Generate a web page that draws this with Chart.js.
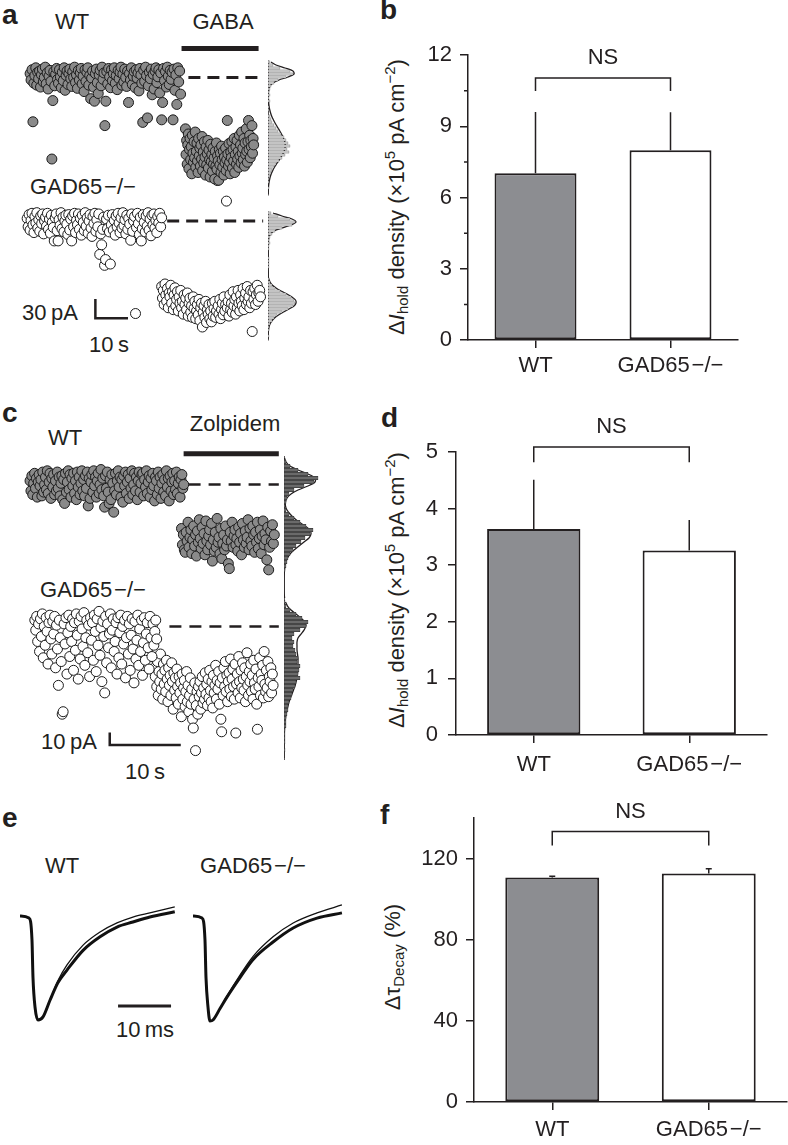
<!DOCTYPE html>
<html>
<head>
<meta charset="utf-8">
<script src="https://cdn.jsdelivr.net/npm/chart.js@4.4.1/dist/chart.umd.min.js"></script>
<style>
  body { margin: 0; background: #fff; }
  #fig { position: relative; width: 788px; height: 1145px; overflow: hidden;
         font-family: "Liberation Sans", Arial, sans-serif; color: #231f20; }
  #fig canvas { position: absolute; }
  .lbl { position: absolute; transform: translate(-50%, -50%); white-space: nowrap; font-size: 22px; line-height: 1; }
  .pl { position: absolute; font-weight: bold; font-size: 28px; line-height: 28px; }
  .yt { position: absolute; transform: translate(-50%, -50%) rotate(-90deg); white-space: nowrap; font-size: 22px; line-height: 1; }
  .yt sub, .yt sup { font-size: 15px; line-height: 0; }
  .yt sub { vertical-align: -4px; }
  .yt sup { vertical-align: 9px; }
</style>
</head>
<body>
<div id="fig">
  <div class="pl" style="left:2px;top:1px">a</div>
  <div class="pl" style="left:380px;top:-4px">b</div>
  <div class="pl" style="left:2px;top:399px">c</div>
  <div class="pl" style="left:381px;top:404px">d</div>
  <div class="pl" style="left:2px;top:804px">e</div>
  <div class="pl" style="left:380px;top:801px">f</div>

  <div class="lbl" style="left:72px;top:22px">WT</div>
  <div class="lbl" style="left:223px;top:22px">GABA</div>
  <div class="lbl" style="left:83px;top:187px">GAD65&#8202;&#8722;/&#8722;</div>
  <div class="lbl" style="left:50px;top:313px">30&#8201;pA</div>
  <div class="lbl" style="left:109px;top:345px">10&#8201;s</div>

  <div class="lbl" style="left:65px;top:438px">WT</div>
  <div class="lbl" style="left:235px;top:424px">Zolpidem</div>
  <div class="lbl" style="left:93px;top:590px">GAD65&#8202;&#8722;/&#8722;</div>
  <div class="lbl" style="left:69px;top:742px">10&#8201;pA</div>
  <div class="lbl" style="left:145px;top:772px">10&#8201;s</div>

  <div class="lbl" style="left:62px;top:866px">WT</div>
  <div class="lbl" style="left:253px;top:866px">GAD65&#8202;&#8722;/&#8722;</div>
  <div class="lbl" style="left:145px;top:1030px">10&#8201;ms</div>

  <div class="yt" style="left:397px;top:197px">&#916;<i>I</i><sub>hold</sub> density (&#215;10<sup>5</sup> pA cm<sup>&#8722;2</sup>)</div>
  <div class="yt" style="left:397px;top:590px">&#916;<i>I</i><sub>hold</sub> density (&#215;10<sup>5</sup> pA cm<sup>&#8722;2</sup>)</div>
  <div class="yt" style="left:393px;top:957px">&#916;&#964;<sub>Decay</sub> (%)</div>
</div>
<script>
const FONT = "'Liberation Sans', Arial, Helvetica, sans-serif";
const INK = '#231f20';
const WT_GRAY = '#8c8d91';
Chart.defaults.font.family = FONT;
Chart.defaults.color = INK;

// ---------- a: holding current during GABA (pA, relative to each cell's baseline) ----------
const aWtBase = [
  6,-4,12,-69,-9,3,15,-12,8,-2,  10,-15,4,13,-7,0,16,-10,7,-18,
  2,11,-6,-127,-36,9,-13,5,14,-3,  -9,12,1,-16,8,-5,15,-20,3,10,
  -11,6,13,-2,-14,9,0,16,-8,4,  -17,11,-4,7,14,-10,2,-22,12,-6,
  8,15,-12,3,-33,-1,10,-15,-37,6,  13,-8,-25,4,11,-13,16,-3,7,-75,
  -37,9,-10,14,1,-16,12,-5,6,15,  -9,3,-19,11,-2,8,16,-12,5,-7,
  13,0,-14,10,-39,6,-4,15,-11,2,  9,-16,12,-1,7,-21,14,4,-9,-70,
  11,-6,16,3,-63,-13,8,-2,13,-27,  5,-18,10,15,-8,1,12,-24,7,-66,
  -39,14,-5,9,-15,16,2,-11,11,-3,  8,-66,13,-20,4,-42,15,-7,10,-26
];
const aWtGaba = [
  -80,-120,-98,-135,-105,-88,-142,-112,-95,-128,  -108,-150,-90,-118,-132,-100,-125,-85,-140,-115,
  -102,-130,-148,-95,-122,-110,-138,-105,-127,-92,  -145,-116,-133,-100,-124,-152,-108,-136,-119,-98,
  -141,-113,-128,-155,-104,-131,-120,-146,-110,-135,  -125,-158,-115,-138,-102,-143,-122,-130,-160,-112,
  -136,-118,-148,-107,-128,-140,-115,-152,-124,-133,  -110,-145,-128,-67,-119,-138,-103,-132,-150,-116,
  -125,-100,-141,-112,-130,-95,-148,-120,-108,-135,  -98,-127,-115,-140,-90,-122,-105,-133,-85,-118,
  -110,-128,-95,-138,-102,-120,-80,-115,-132,-100,  -67,-112,-90,-125,-98,-108,-75,-118,-95,-105
];
const aGadBase = [
  4,-9,10,-14,1,12,-6,-18,7,-3,  13,-11,2,-16,8,-4,11,-20,0,6,
  -8,12,-13,3,-19,9,-2,-10,-31,5,  11,-15,-31,2,-7,13,-12,6,-17,0,
  9,-5,-21,10,-14,3,-31,8,-9,12,  -18,1,-6,11,-13,4,-22,9,-2,-15,
  13,-8,5,-19,0,10,-11,-24,7,-4,  12,-16,2,-9,11,-52,-20,-37,-13,6,
  -69,-60,3,-12,9,-17,-67,-6,10,-14,  1,-22,8,-9,12,-3,-18,5,-11,13,
  -7,2,-20,9,-13,4,-5,-30,11,-16,  0,7,-144,-10,12,-4,-21,6,-31,-12,
  10,-2,-17,8,-8,13,-14,3,-23,9,  -6,11,-11,1,-18,7,-3,12,-9,5
];
const aGadGaba = [
  -102,-120,-108,-130,-98,-115,-125,-105,-135,-112,  -118,-100,-128,-110,-138,-115,-104,-132,-122,-110,
  -140,-118,-128,-108,-135,-125,-145,-115,-130,-120,  -138,-112,-148,-128,-120,-142,-132,-150,-118,-136,
  -125,-152,-140,-130,-146,-122,-155,-135,-128,-165,  -142,-132,-150,-125,-158,-138,-145,-130,-152,-140,
  -157,-128,-148,-136,-125,-150,-140,63,-132,-145,  -122,-152,-138,-128,-146,-118,-140,-130,31,-135,
  -125,-148,-115,-138,-128,-142,-110,-132,-122,-145,  -118,-135,-108,-128,-140,-115,-125,-132,-105,-138,
  -120,-112,-130,-102,-125,-118,-135,-108,-128,-172,  -110,-122,-105,-130,-115,-100,-125,-112,-108,-118
];
// [start time, sample interval] in s
const aWtBaseT = [1.5, 0.29], aWtGabaT = [49.1, 0.1756];
const aGadBaseT = [0.6, 0.2964], aGadGabaT = [41.8, 0.2546];
const aGadShift = -223.5;                 // vertical offset of GAD65-/- trace (pA)
const aGaba = [47.9, 71.5];               // GABA application (s)
const aDashWt = [50, 72.9], aDashGad = [43.5, 72.9];
// all-points histograms, 4.5 pA bins from the top bin downwards
const aWtHist = [2,5,12,22,25,18,10,6,3,2, 1,2,1,2,0,1,1,0,2,3, 4,6,8,10,13,16,18,20,22,19, 21,17,14,11,8,6,4,3,2,1, 1,0,1,0,0];
const aWtFit  = [3,8,17,25,26,20,11,5,2,1, 0.5,0.3,0.3,0.5,0.8,1.2,1.8,2.6,3.6,5, 6.5,8.2,10,11.8,13.5,15,16.2,17,17.2,16.8, 15.8,14.3,12.5,10.5,8.5,6.6,5,3.6,2.5,1.7, 1.1,0.7,0.4,0.2,0.1];
const aGadHist = [3,10,22,27,24,14,7,4,2,1, 2,1,1,0,0,1,1,1,1,0, 0,0,1,2,4,7,12,18,23,26, 27,25,20,14,9,6,4,2,1,1, 0,1,0];
const aGadFit  = [5,14,24,28,23,14,6,2.5,1,0.5, 0.3,0.2,0.1,0.1,0.1,0.1,0.1,0.1,0.1,0.1, 0.2,0.2,0.8,2,4.2,8,13,19,24,27.5, 28,26,21,15.5,10.5,6.5,3.7,2,1,0.5, 0.2,0.1,0];
const aHistBin = 4.5, aWtHistTop = 16.5, aGadHistTop = 13.5;
const aScaleBar = { t: 21.5, pA: -375, dt: 10, dpA: 30 };

// ---------- c: holding current during zolpidem ----------
const cWtBase = [
  3,-5,7,-8,1,9,-3,5,-10,2,  8,-1,4,-9,10,-6,0,6,-4,11,
  -7,2,9,-11,5,-2,8,-8,3,-5,  10,-3,6,-9,1,7,-12,4,-15,9,
  -6,2,11,-4,8,-10,5,-1,9,-7,  3,-12,10,-2,6,-8,1,11,-5,4,
  -9,7,-3,10,-17,5,-11,2,8,-6,  11,-1,6,-10,3,9,-7,0,12,-4,
  5,-9,-18,7,-3,10,-6,-15,4,-12,  8,1,-22,-5,9,-8,3,11,-2,6,
  -10,4,-14,7,-1,10,-7,2,8,-11,  5,-3,11,-8,0,9,-5,6,-12,3,
  10,-6,1,8,9,-9,4,-2,11,-7,  2,7,-10,5,-4,9,-1,-13,6,3,
  -8,10,-3,6,-11,1,8,-6,4,-9,  11,-2,5,-13,7,-5,2,9,-8,3,
  -4,10,-7,1,6,-10,4,8,-3,0
];
const cWtZolp = [
  -35,-48,-40,-52,-54,-38,-45,-30,-50,-42,  -36,-55,-44,-33,-49,-40,-57,-37,-46,-28,
  -43,-51,-34,-47,-39,-56,-29,-45,-52,-41,  -36,-48,-31,-61,-44,-53,-38,-50,-27,-46,
  -42,-55,-35,-59,-47,-40,-52,-33,-49,-44,  -63,-67,-38,-45,-30,-50,-41,-36,-48,-43,
  -53,-34,-46,-39,-56,-31,-44,-50,-37,-47,  -42,-28,-52,-35,-45,-49,-33,-40,-54,-38,
  -46,-30,-51,-43,-36,-55,-41,-29,-48,-39,  -44,-60,-34,-68,-50,-37,-45,-32,-47,-40
];
const cGadBase = [
  5,-3,8,-12,2,-20,6,-8,10,-25,  0,-15,7,-4,-30,3,9,-10,-22,4,
  -6,8,-33,1,-18,-47,5,-9,-28,-70,  -68,2,-14,7,-38,-5,9,-24,0,-12,
  6,-35,3,-19,10,-7,-42,4,-26,8,  -2,-16,11,-31,-9,5,-21,1,-40,7,
  -11,3,-27,9,-4,-36,6,-15,12,-23,  -1,-44,4,-8,-53,8,-29,2,-17,-6,
  10,-33,-3,6,-20,-12,3,-38,7,-25,  -5,9,-30,0,-14,5,-41,-9,8,-22,
  2,-35,-7,6,-18,-45,4,-26,-11,9,  -31,-2,-20,5,-39,-13,7,-27,-6,3,
  -17,-34,8,-9,-24,2,-15,-4,5,-10
];
const cGadZolp = [
  -25,-40,-32,-48,-28,-55,-36,-44,-22,-50,  -38,-58,-30,-46,-35,-52,-27,-42,-60,-33,
  -47,-39,-55,-29,-44,-66,-37,-51,-41,-57,  -34,-48,-62,-40,-53,-45,-72,-38,-58,-49,
  -43,-64,-52,-36,-60,-47,-68,-55,-41,-62,  -50,-74,-81,-58,-45,-99,-63,-52,-70,-48,
  -56,-44,-66,-53,-40,-61,-49,-58,-37,-54,  -46,-63,-42,-57,-35,-51,-60,-44,-65,-39,
  -53,-47,-31,-58,-43,-50,-36,-62,-45,-74,  -84,-41,-55,-33,-48,-28,-52,-39,-60,-44,
  -37,-50,-26,-56,-42,-34,-48,-58,-30,-85,  -46,-38,-53,-24,-44,-57,-35,-49,-29,-42,
  -51,-33,-60,-40,-21,-47,-55,-36,-44,-30,  -52,-39,-58,-27,-45,-50,-34,-62,-82,-41,
  -48,-25,-55,-38,-43,-31,-57,-20,-46,-52,  -35,-49,-28,-56,-40,-44,-33,-53,-38,-47
];
const cWtBaseT = [0.68, 0.128], cWtZolpT = [22.0, 0.132];
const cGadBaseT = [1.35, 0.133], cGadZolpT = [18.2, 0.105];
const cGadShift = -113.1;
const cZolp = [22.3, 35.7];
const cDashWt = [23.0, 35.7], cDashGad = [20.3, 35.7];
const cWtHist = [0,2,6,14,24,34,30,20,10,5, 3,2,1,2,5,10,16,22,29,26, 21,17,12,9,6,4,3,2,1,0, 0,0,0,0,0,0];
const cWtFit  = [0.5,2,6,14,24,31,31,24,14,7, 3,1.5,1.5,3,6,10,15,21,26,27, 25,20,15,10,6,3.5,2,1,0.5,0.2, 0,0,0,0,0.2,0.6];
const cGadHist = [1,2,6,12,18,24,22,16,10,8, 10,9,11,12,14,13,16,15,14,16, 12,11,9,8,7,5,4,4,3,2, 2,2,1,1,1,1,0,1,0,0];
const cGadFit  = [1.5,3.5,7,12,17,21,22,20,17,14, 13,13,13,13.5,14,14,14,14,13.5,13, 12,11,9.5,8,6.5,5,4,3,2.2,1.6, 1.1,0.8,0.5,0.3,0.2,0.1,0,0,0,0];
const cHistBin = 3.077, cWtHistTop = 16.92, cGadHistTop = 19.23;
const cScaleBar = { t: 11.9, pA: -207.7, dt: 10, dpA: 10 };

// ---------- e: averaged IPSCs (normalised), control vs zolpidem ----------
const eWtT    = [0, 1.7, 2.26, 2.45, 2.83, 3.4, 4.34, 5.66, 7.17, 8.87, 11.9, 15.1, 18.3, 21.3, 24.5, 29.2];
const eWtZolp = [0, -0.02, -0.23, -0.59, -0.875, -1.0, -0.97, -0.81, -0.64, -0.52, -0.33, -0.2, -0.106, -0.058, -0.01, 0.04];
const eWtCtrl = [0, -0.02, -0.23, -0.59, -0.875, -1.0, -0.97, -0.81, -0.62, -0.47, -0.28, -0.154, -0.067, -0.01, 0.03, 0.087];
const eGadT    = [0, 1.7, 2.26, 2.45, 2.83, 3.2, 3.77, 5.1, 6.4, 8.9, 11.3, 15.1, 18.9, 23.4, 28.1];
const eGadZolp = [0, -0.02, -0.23, -0.59, -0.875, -1.01, -1.0, -0.89, -0.78, -0.59, -0.42, -0.25, -0.115, -0.02, 0.03];
const eGadCtrl = [0, -0.02, -0.23, -0.59, -0.875, -1.01, -1.0, -0.89, -0.77, -0.565, -0.39, -0.2, -0.067, 0.03, 0.106];
const eScaleBar = { t: 18.5, y: -0.865, dt: 10 };

// ---------- b, d, f: summary bars ----------
const groups = ['WT', 'GAD65\u200A\u2212/\u2212'];
const bMeans = [7.02, 7.99], bErr = [2.58, 1.6];
const dMeans = [3.64, 3.26], dErr = [0.87, 0.54];
const fMeans = [110.7, 112.6], fErr = [0.6, 2.4];
const bMinorTicks = [1.5, 4.5, 7.5, 10.5];

// ---------- helpers ----------
function addCanvas(left, top, w, h) {
  const c = document.createElement('canvas');
  c.width = w; c.height = h;
  c.style.left = left + 'px'; c.style.top = top + 'px';
  c.style.width = w + 'px'; c.style.height = h + 'px';
  document.getElementById('fig').appendChild(c);
  return c;
}
const bare = { legend: { display: false }, tooltip: { enabled: false } };

function dots(vals, t, shift, fill) {
  return {
    data: vals.map((v, i) => ({ x: t[0] + i * t[1], y: v + shift })),
    pointRadius: 5, pointBackgroundColor: fill, pointBorderColor: '#1b1b1b', pointBorderWidth: 1,
    showLine: false, clip: false
  };
}
function seg(points, width, dash) {
  return {
    data: points.map(p => ({ x: p[0], y: p[1] })), showLine: true, borderColor: INK,
    borderWidth: width, borderDash: dash || [], pointRadius: 0, clip: false, tension: 0
  };
}
function traceChart(canvas, xr, yr, datasets) {
  return new Chart(canvas, {
    type: 'scatter', data: { datasets },
    options: {
      responsive: false, animation: false, events: [], layout: { padding: 0 }, plugins: bare,
      scales: {
        x: { type: 'linear', display: false, min: xr[0], max: xr[1] },
        y: { type: 'linear', display: false, min: yr[0], max: yr[1] }
      }
    }
  });
}
function histChart(canvas, xMax, yr, parts, fill, edge, thick) {
  const ds = [];
  parts.forEach(p => {
    const c = i => p.top - i * p.bin + p.shift;
    ds.push({ type: 'bar', data: p.counts.map((n, i) => ({ x: n, y: c(i) })), backgroundColor: fill,
      borderColor: edge, borderWidth: 0.5, barThickness: thick, borderSkipped: false, grouped: false });
    ds.push({ type: 'line', data: p.fit.map((n, i) => ({ x: n, y: c(i) })), borderColor: INK,
      borderWidth: 1.3, pointRadius: 0, clip: false, tension: 0.3 });
    ds.push({ type: 'line', data: [{ x: 0, y: c(0) + p.bin / 2 }, { x: 0, y: c(p.counts.length - 1) - p.bin / 2 }],
      borderColor: INK, borderWidth: 1.5, pointRadius: 0, clip: false });
  });
  return new Chart(canvas, {
    type: 'bar', data: { datasets: ds },
    options: {
      indexAxis: 'y', responsive: false, animation: false, events: [], plugins: bare,
      scales: {
        x: { type: 'linear', display: false, min: 0, max: xMax },
        y: { type: 'linear', display: false, offset: false, min: yr[0], max: yr[1] }
      }
    }
  });
}

// error bars, significance bracket, minor ticks
const statsPlugin = {
  id: 'stats',
  afterDatasetsDraw(chart, args, o) {
    const ctx = chart.ctx, y = chart.scales.y;
    const meta = chart.getDatasetMeta(0);
    const means = chart.data.datasets[0].data;
    ctx.save();
    ctx.strokeStyle = INK; ctx.lineWidth = 1.5;
    ctx.beginPath();
    meta.data.forEach((bar, i) => {
      const y1 = y.getPixelForValue(means[i] + o.errs[i]);
      ctx.moveTo(bar.x, y.getPixelForValue(means[i]));
      ctx.lineTo(bar.x, y1);
      if (o.cap) { ctx.moveTo(bar.x - o.cap / 2, y1); ctx.lineTo(bar.x + o.cap / 2, y1); }
    });
    const xa = meta.data[0].x, xb = meta.data[1].x;
    const yb = y.getPixelForValue(o.bracket), yl = y.getPixelForValue(o.legs);
    ctx.moveTo(xa, yl); ctx.lineTo(xa, yb); ctx.lineTo(xb, yb); ctx.lineTo(xb, yl);
    (o.minor || []).forEach(v => {
      const py = y.getPixelForValue(v);
      ctx.moveTo(chart.chartArea.left, py); ctx.lineTo(chart.chartArea.left - 4, py);
    });
    ctx.stroke();
    ctx.fillStyle = INK; ctx.font = '22px ' + FONT;
    ctx.textAlign = 'center'; ctx.textBaseline = 'middle';
    ctx.fillText('NS', (xa + xb) / 2, yb - 20);
    ctx.restore();
  }
};

function barPanel(canvas, o) {
  return new Chart(canvas, {
    type: 'bar',
    data: { labels: groups, datasets: [{ data: o.means, backgroundColor: [WT_GRAY, '#ffffff'], borderColor: INK,
      borderWidth: 2, borderSkipped: false, barPercentage: o.barPct, categoryPercentage: 1 }] },
    options: {
      responsive: false, animation: false, events: [],
      layout: { padding: { top: o.top, right: o.right, left: 0, bottom: 0 } },
      plugins: Object.assign({ stats: { errs: o.errs, bracket: o.bracket, legs: o.legs, cap: o.cap, minor: o.minor } }, bare),
      scales: {
        x: {
          grid: { offset: false, drawOnChartArea: false, tickLength: 8, color: INK, lineWidth: 1.5 },
          border: { color: INK, width: 1.5 },
          ticks: { font: { size: 22 }, color: INK, padding: o.xPad, maxRotation: 0 },
          afterFit: s => { s.height = o.xH; }
        },
        y: {
          min: 0, max: o.max,
          grid: { drawOnChartArea: false, tickLength: 8, color: INK, lineWidth: 1.5 },
          border: { color: INK, width: 1.5 },
          ticks: { stepSize: o.step, font: { size: 22 }, color: INK, padding: o.yPad },
          afterFit: s => { s.width = o.yW; },
          afterBuildTicks: s => { s.ticks = s.ticks.filter(t => Math.abs(t.value / o.step - Math.round(t.value / o.step)) < 1e-6); }
        }
      }
    },
    plugins: [statsPlugin]
  });
}

// ---------- panel a ----------
const aY = [-430.5, 64.5];
traceChart(addCanvas(0, 30, 300, 330), [-5.882, 82.353], aY, [
  seg([[aGaba[0], 45], [aGaba[1], 45]], 5),
  seg([[aDashWt[0], 0], [aDashWt[1], 0]], 3, [12, 7]),
  seg([[aDashGad[0], aGadShift], [aDashGad[1], aGadShift]], 3, [12, 7]),
  seg([[aScaleBar.t, aScaleBar.pA + aScaleBar.dpA], [aScaleBar.t, aScaleBar.pA], [aScaleBar.t + aScaleBar.dt, aScaleBar.pA]], 2.5),
  dots(aWtBase, aWtBaseT, 0, '#8a8a8a'),
  dots(aWtGaba, aWtGabaT, 0, '#8a8a8a'),
  dots(aGadBase, aGadBaseT, aGadShift, '#ffffff'),
  dots(aGadGaba, aGadGabaT, aGadShift, '#ffffff')
]);
histChart(addCanvas(268, 30, 34, 330), 34, aY, [
  { counts: aWtHist, fit: aWtFit, top: aWtHistTop, bin: aHistBin, shift: 0 },
  { counts: aGadHist, fit: aGadFit, top: aGadHistTop, bin: aHistBin, shift: aGadShift }
], '#c4c4c4', '#555', 2.4);

// ---------- panel c ----------
const cY = [-230.77, 30.77];
traceChart(addCanvas(0, 440, 300, 340), [-2.703, 37.838], cY, [
  seg([[cZolp[0], 24.6], [cZolp[1], 24.6]], 5),
  seg([[cDashWt[0], 0], [cDashWt[1], 0]], 2.5, [12, 8]),
  seg([[cDashGad[0], cGadShift], [cDashGad[1], cGadShift]], 2.5, [12, 8]),
  seg([[cScaleBar.t, cScaleBar.pA + cScaleBar.dpA], [cScaleBar.t, cScaleBar.pA], [cScaleBar.t + cScaleBar.dt, cScaleBar.pA]], 2.5),
  dots(cWtBase, cWtBaseT, 0, '#8a8a8a'),
  dots(cWtZolp, cWtZolpT, 0, '#8a8a8a'),
  dots(cGadBase, cGadBaseT, cGadShift, '#ffffff'),
  dots(cGadZolp, cGadZolpT, cGadShift, '#ffffff')
]);
histChart(addCanvas(284, 440, 40, 340), 40, cY, [
  { counts: cWtHist, fit: cWtFit, top: cWtHistTop, bin: cHistBin, shift: 0 },
  { counts: cGadHist, fit: cGadFit, top: cGadHistTop, bin: cHistBin, shift: cGadShift }
], '#6a6a6a', '#222', 3.2);

// ---------- panel e ----------
function ipsc(t, v, w) {
  return { data: t.map((x, i) => ({ x, y: v[i] })), showLine: true, borderColor: '#111', borderWidth: w,
    pointRadius: 0, clip: false, cubicInterpolationMode: 'monotone' };
}
const eX = [-3.774, 31.132], eY = [-1.192, 0.346];
traceChart(addCanvas(0, 880, 185, 160), eX, eY, [
  ipsc(eWtT, eWtCtrl, 1.3), ipsc(eWtT, eWtZolp, 3),
  seg([[eScaleBar.t, eScaleBar.y], [eScaleBar.t + eScaleBar.dt, eScaleBar.y]], 3)
]);
traceChart(addCanvas(173, 880, 185, 160), eX, eY, [
  ipsc(eGadT, eGadCtrl, 1.3), ipsc(eGadT, eGadZolp, 3)
]);

// ---------- panels b, d, f ----------
barPanel(addCanvas(380, 0, 408, 400), { means: bMeans, errs: bErr, bracket: 11.03, legs: 10.48, minor: bMinorTicks,
  max: 12, step: 3, top: 55, right: 50, yW: 88, xH: 60, xPad: 5, yPad: 8, barPct: 0.607 });
barPanel(addCanvas(380, 400, 408, 400), { means: dMeans, errs: dErr, bracket: 5.09, legs: 4.82,
  max: 5, step: 1, top: 52, right: 21, yW: 76, xH: 65, xPad: 9, yPad: 10, barPct: 0.6 });
barPanel(addCanvas(380, 790, 408, 355), { means: fMeans, errs: fErr, bracket: 133.3, legs: 126.4, cap: 6,
  max: 140, step: 40, top: 28, right: 1, yW: 94, xH: 43, xPad: 7, yPad: 8, barPct: 0.6 });
</script>
</body>
</html>
